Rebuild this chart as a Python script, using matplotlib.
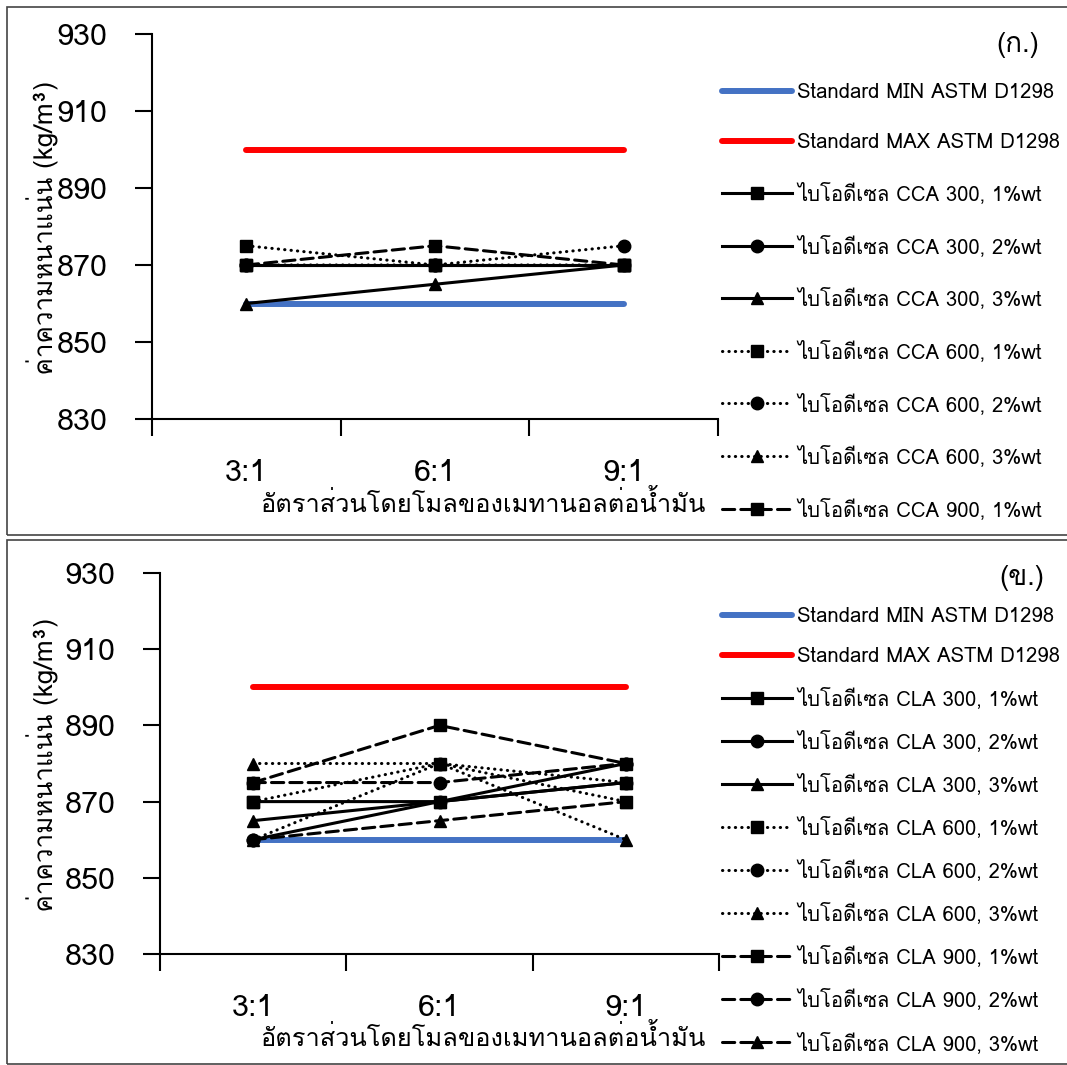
import matplotlib
matplotlib.use("Agg")
import matplotlib.pyplot as plt
from matplotlib import font_manager
from matplotlib.patches import Rectangle, PathPatch
from matplotlib.textpath import TextPath
from matplotlib.transforms import Affine2D, IdentityTransform
from fontTools.ttLib import TTFont

# data
categories = ["3:1", "6:1", "9:1"]
std_min = [860, 860, 860]
std_max = [900, 900, 900]

cca_labels = ["ไบโอดีเซล CCA 300, 1%wt", "ไบโอดีเซล CCA 300, 2%wt", "ไบโอดีเซล CCA 300, 3%wt",
              "ไบโอดีเซล CCA 600, 1%wt", "ไบโอดีเซล CCA 600, 2%wt", "ไบโอดีเซล CCA 600, 3%wt",
              "ไบโอดีเซล CCA 900, 1%wt"]
cca_300_1 = [870, 870, 870]
cca_300_2 = [870, 870, 870]
cca_300_3 = [860, 865, 870]
cca_600_1 = [875, 870, 870]
cca_600_2 = [870, 870, 875]
cca_600_3 = [870, 870, 870]
cca_900_1 = [870, 875, 870]

cla_labels = ["ไบโอดีเซล CLA 300, 1%wt", "ไบโอดีเซล CLA 300, 2%wt", "ไบโอดีเซล CLA 300, 3%wt",
              "ไบโอดีเซล CLA 600, 1%wt", "ไบโอดีเซล CLA 600, 2%wt", "ไบโอดีเซล CLA 600, 3%wt",
              "ไบโอดีเซล CLA 900, 1%wt", "ไบโอดีเซล CLA 900, 2%wt", "ไบโอดีเซล CLA 900, 3%wt"]
cla_300_1 = [870, 870, 875]
cla_300_2 = [860, 870, 880]
cla_300_3 = [865, 870, 875]
cla_600_1 = [870, 880, 870]
cla_600_2 = [860, 880, 875]
cla_600_3 = [880, 880, 860]
cla_900_1 = [875, 890, 880]
cla_900_2 = [875, 875, 880]
cla_900_3 = [860, 865, 870]

y_ticks = [830, 850, 870, 890, 910, 930]
x_title = "อัตราส่วนโดยโมลของเมทานอลต่อน้ำมัน"
y_title = "ค่าความหนาแน่น (kg/m³)"


# find something that can draw thai
def find_thai_font():
    for f in font_manager.fontManager.ttflist:
        try:
            tt = TTFont(f.fname, fontNumber=0, lazy=True)
            cmap = tt.getBestCmap()
            if cmap and 0x0E01 in cmap and 0x0E44 in cmap:
                return f.name
        except Exception:
            continue
    return None

thai = find_thai_font()
fams = ['DejaVu Sans']
if thai:
    fams = [thai, 'DejaVu Sans']
plt.rcParams['font.family'] = fams
num_fams = ['Liberation Sans Narrow'] + fams

line_styles = ['-', (0, (0.1, 2.0)), (0, (4, 2))]
markers = ['s', 'o', '^']

W, H = 1067, 1065
fig = plt.figure(figsize=(W / 100, H / 100), dpi=100)

# panel borders
for y0, y1 in [(7, 535), (540, 1064)]:
    fig.patches.append(Rectangle((7 / W, 1 - y1 / H), 1.2, (y1 - y0) / H,
                                 transform=fig.transFigure, fill=False,
                                 edgecolor='#444444', lw=1.2))


def rotated_label(text, base_x, cy, length_px):
    # rotated text as a path, baseline at base_x (pixels), centred on cy
    tp = TextPath((0, 0), text, size=20,
                  prop=font_manager.FontProperties(family=fams))
    ext = tp.get_extents()
    k = length_px / (ext.x1 - ext.x0)
    tr = (Affine2D().translate(-(ext.x0 + ext.x1) / 2, 0)
          .scale(k).rotate_deg(90).translate(base_x, H - cy))
    fig.add_artist(PathPatch(tp, transform=tr + IdentityTransform(),
                             facecolor='black', edgecolor='none'))


def draw_panel(px, series, labels, tag, tick_pad, xlab_y, tag_xy, leg_top, leg_step):
    left, right, top, bottom = px
    ax = fig.add_axes([left / W, 1 - bottom / H, (right - left) / W, (bottom - top) / H])
    x = range(len(categories))
    ax.plot(x, std_min, color='#4472C4', lw=4.3, solid_capstyle='round',
            label='Standard MIN ASTM D1298', zorder=2)
    ax.plot(x, std_max, color='#FF0000', lw=4.3, solid_capstyle='round',
            label='Standard MAX ASTM D1298', zorder=2)
    for i, (vals, lab) in enumerate(zip(series, labels)):
        ax.plot(x, vals, color='black', lw=2.2, linestyle=line_styles[i // 3],
                dash_capstyle='round', marker=markers[i % 3], markersize=9,
                label=lab, zorder=3)

    ax.set_xlim(-0.5, 2.5)
    ax.set_ylim(830, 930)
    ax.set_yticks(y_ticks)
    ax.set_xticks([-0.5, 0.5, 1.5, 2.5])
    ax.set_xticklabels([])
    ax.set_xticks(list(x), minor=True)
    ax.set_xticklabels(categories, minor=True)
    ax.tick_params(axis='x', which='major', length=12, width=1.5, direction='out')
    ax.tick_params(axis='x', which='minor', length=0, pad=tick_pad)
    ax.tick_params(axis='y', length=12, width=1.5, direction='out', pad=20)
    for t in ax.get_yticklabels() + ax.get_xticklabels(minor=True):
        t.set_family(num_fams)
        t.set_fontsize(22)
    for s in ['top', 'right']:
        ax.spines[s].set_visible(False)
    ax.spines['left'].set_linewidth(1.5)
    ax.spines['bottom'].set_linewidth(1.5)

    fig.text(483 / W, 1 - xlab_y / H, x_title, fontsize=18.3,
             ha='center', va='center')
    rotated_label(y_title, 52, (top + bottom) / 2 + 2, 290)
    fig.text(tag_xy[0] / W, 1 - tag_xy[1] / H, tag, fontsize=20,
             ha='center', va='center')

    ax.legend(loc='upper left', bbox_to_anchor=(714 / W, 1 - leg_top / H),
              bbox_transform=fig.transFigure, frameon=False, fontsize=14.6,
              numpoints=1, handlelength=3.44, handletextpad=0.25,
              labelspacing=leg_step, borderaxespad=0)
    return ax


draw_panel((152, 718, 34, 419),
           [cca_300_1, cca_300_2, cca_300_3, cca_600_1, cca_600_2, cca_600_3, cca_900_1],
           cca_labels, "(ก.)", 29, 503, (1018, 45), 75, 1.51)

draw_panel((160, 719, 573, 954),
           [cla_300_1, cla_300_2, cla_300_3, cla_600_1, cla_600_2, cla_600_3,
            cla_900_1, cla_900_2, cla_900_3],
           cla_labels, "(ข.)", 29, 1037, (1022, 578), 599, 1.04)

fig.savefig("out.png", dpi=100)
